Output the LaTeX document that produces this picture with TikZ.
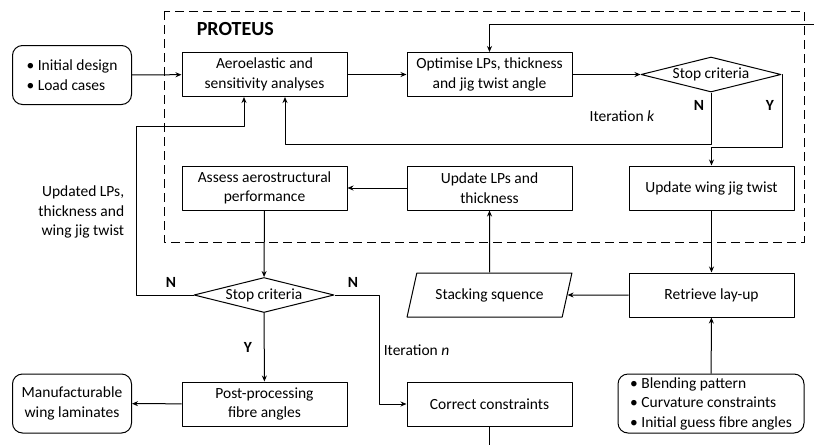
\documentclass[tikz,border=0pt]{standalone}
\usepackage{fontspec}
\setmainfont{Carlito}
\usetikzlibrary{shapes.geometric,arrows.meta}

\begin{document}
\begin{tikzpicture}[x=1pt, y=-1pt, font=\fontsize{15.5}{19.5}\selectfont, line width=1pt, line join=round, >={Stealth[length=6pt,width=5pt]},
	box/.style={draw, minimum width=165pt, minimum height=44pt, align=center, inner sep=2pt},
	rbox/.style={draw, rounded corners=10pt, minimum height=59pt, inner sep=3pt},
	stopbox/.style={draw, diamond, aspect=4, minimum width=140pt, minimum height=35pt, inner sep=0pt},
	lbl/.style={font=\fontsize{15.5}{19.5}\selectfont\bfseries}]
	\useasboundingbox (0,0) rectangle (814,445);
	% PROTEUS
	\draw[dash pattern=on 9pt off 5pt] (164,11) rectangle (804,242);
	\node[anchor=west, font=\fontsize{20}{22}\selectfont\bfseries] (proteus) at (193,29) {PROTEUS};
	% Kasten
	\node[rbox, minimum width=119pt, align=left] (init) at (72,75) {\textbullet~Initial design\\\textbullet~Load cases};
	\node[box] (aero) at (264.5,74.5) {Aeroelastic and\\sensitivity analyses};
	\node[box] (opt) at (489.5,74.5) {Optimise LPs, thickness\\and jig twist angle};
	\node[stopbox] (stopk) at (711,74.5) {Stop criteria};
	\node[box] (twist) at (711.5,188) {Update wing jig twist};
	\node[box] (upd) at (489.5,188) {Update LPs and\\thickness};
	\node[box] (assess) at (264.5,188) {Assess aerostructural\\performance};
	\node[stopbox] (stopn) at (264,295) {Stop criteria};
	\node[draw, trapezium, trapezium left angle=69, trapezium right angle=111, trapezium stretches=true, minimum width=165pt, minimum height=44pt] (stack) at (489.5,295) {Stacking squence};
	\node[box] (layup) at (711.5,295) {Retrieve lay-up};
	\node[box] (post) at (264.5,404) {Post-processing\\fibre angles};
	\node[box] (corr) at (489.5,404) {Correct constraints};
	\node[rbox, minimum width=119pt, align=center] (manu) at (72,403.5) {Manufacturable\\wing laminates};
	\node[rbox, minimum width=186pt, align=left] (blend) at (711,403.5) {\textbullet~Blending pattern\\\textbullet~Curvature constraints\\\textbullet~Initial guess fibre angles};
	% Texte
	\node[lbl] (nk) at (699,105) {N};
	\node[lbl] (yk) at (770,105) {Y};
	\node (itk) at (622,116) {Iteration \textit{k}};
	\node[lbl] (nl) at (171,282) {N};
	\node[lbl] (nr) at (353,282) {N};
	\node[lbl] (yn) at (248,347) {Y};
	\node[anchor=west] (itn) at (380,350) {Iteration \textit{n}};
	\node[align=right, anchor=east] (upl) at (128,212) {Updated LPs,\\thickness and\\wing jig twist};
	% Pfeile
	\coordinate (outR) at (814,24); \coordinate (outB) at (489.5,445);
	\draw[->] (init) -- (aero);
	\draw[->] (aero) -- (opt);
	\draw[->] (opt) -- (stopk);
	\draw[->] (stopk.south) -- ++(0,51.5) -| ([xshift=20.5pt]aero.south);
	\draw[->] (stopk.east) -| ++(1,72.5) -| (twist.north);
	\draw[->] (outR) -| (opt.north);
	\draw[->] (upd) -- (assess);
	\draw[->] (assess) -- (stopn);
	\draw[->] (stopn.west) -| ++(-57,-169) -| ([xshift=-20.5pt]aero.south);
	\draw[->] (stopn.east) -- ++(45,0) |- (corr.west);
	\draw[->] (stopn) -- (post);
	\draw[->] (post) -- (manu);
	\draw[->] (twist) -- (layup);
	\draw[->] (layup) -- (stack);
	\draw[->] (stack) -- (upd);
	\draw[->] (blend) -- (layup);
	\draw (corr.south) -- (outB);
\end{tikzpicture}
\end{document}
